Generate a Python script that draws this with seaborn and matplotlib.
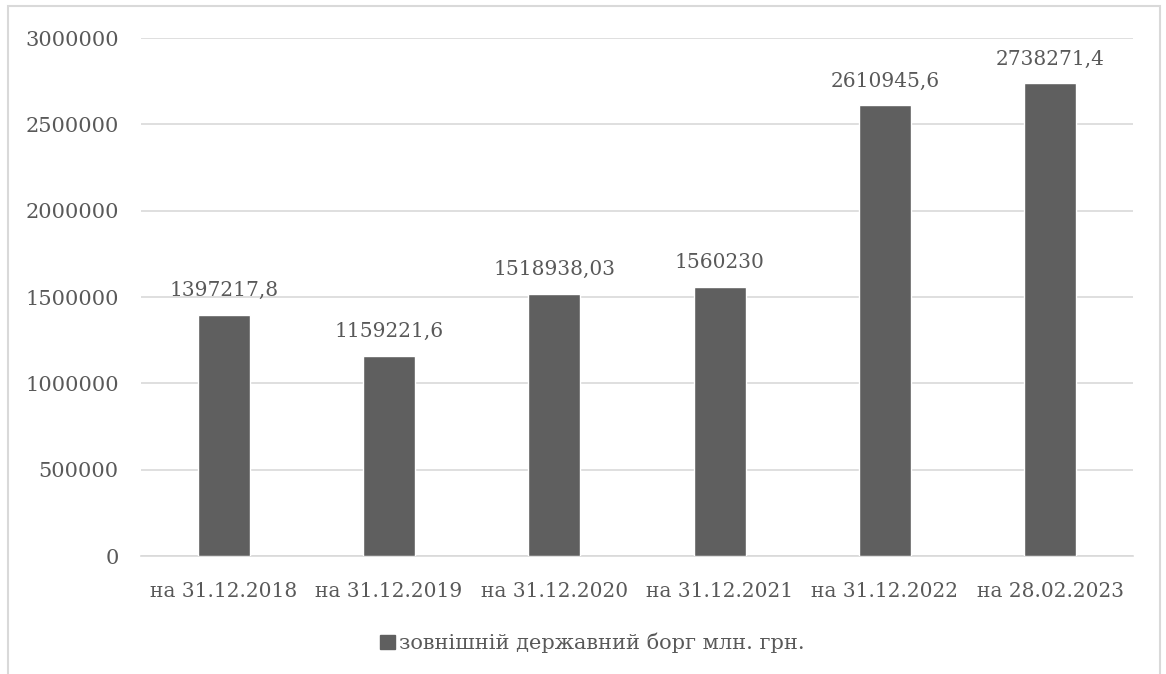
import matplotlib
matplotlib.use("Agg")
import matplotlib.pyplot as plt
import matplotlib.patches as mpatches
import seaborn as sns
import pandas as pd

categories = ["на 31.12.2018", "на 31.12.2019", "на 31.12.2020",
              "на 31.12.2021", "на 31.12.2022", "на 28.02.2023"]
values = [1397217.8, 1159221.6, 1518938.03, 1560230, 2610945.6, 2738271.4]
value_labels = ["1397217,8", "1159221,6", "1518938,03", "1560230", "2610945,6", "2738271,4"]
series_name = "зовнішній державний борг млн. грн."
y_ticks = [0, 500000, 1000000, 1500000, 2000000, 2500000, 3000000]

sns.set_theme(style="white")
plt.rcParams["font.family"] = ["DejaVu Serif", "Liberation Serif"]

text_color = "#595959"
bar_color = "#5f5f5f"
grid_color = "#d9d9d9"
fs = 14.5

df = pd.DataFrame({"category": categories, "value": values})

fig = plt.figure(figsize=(11.66, 6.74), dpi=100)
ax = fig.add_axes([0.1209, 0.175, 0.8508, 0.7686])

sns.barplot(data=df, x="category", y="value", color=bar_color, width=0.315,
            saturation=1, ax=ax, zorder=3)

ax.set_ylim(0, 3000000)
ax.set_yticks(y_ticks)
ax.set_yticklabels([str(t) for t in y_ticks], fontsize=15, color=text_color)
ax.set_xlim(-0.5, len(categories) - 0.5)
ax.tick_params(axis="x", labelsize=fs, colors=text_color, length=0, pad=19)
ax.tick_params(axis="y", length=0, pad=16)
ax.set_xlabel("")
ax.set_ylabel("")
ax.grid(axis="y", color=grid_color, linewidth=1.2, zorder=0)
for s in ["top", "right", "left"]:
    ax.spines[s].set_visible(False)
ax.spines["bottom"].set_color(grid_color)
ax.spines["bottom"].set_linewidth(1.2)

for p, lab in zip(ax.patches, value_labels):
    ax.annotate(lab, (p.get_x() + p.get_width() / 2, p.get_height()),
                xytext=(0, 10.5), textcoords="offset points",
                ha="center", va="bottom", fontsize=fs, color=text_color)

handle = mpatches.Patch(color=bar_color, label=series_name)
fig.legend(handles=[handle], loc="center", bbox_to_anchor=(0.508, 0.046),
           frameon=False, fontsize=15, labelcolor=text_color,
           handlelength=0.7, handleheight=0.7, handletextpad=0.2)

border = mpatches.Rectangle((8 / 1166, -0.05), 1152 / 1166, 1.05 - 6 / 674,
                            transform=fig.transFigure, fill=False,
                            edgecolor=grid_color, linewidth=1.5)
fig.patches.append(border)

fig.savefig("out.png", dpi=100)
